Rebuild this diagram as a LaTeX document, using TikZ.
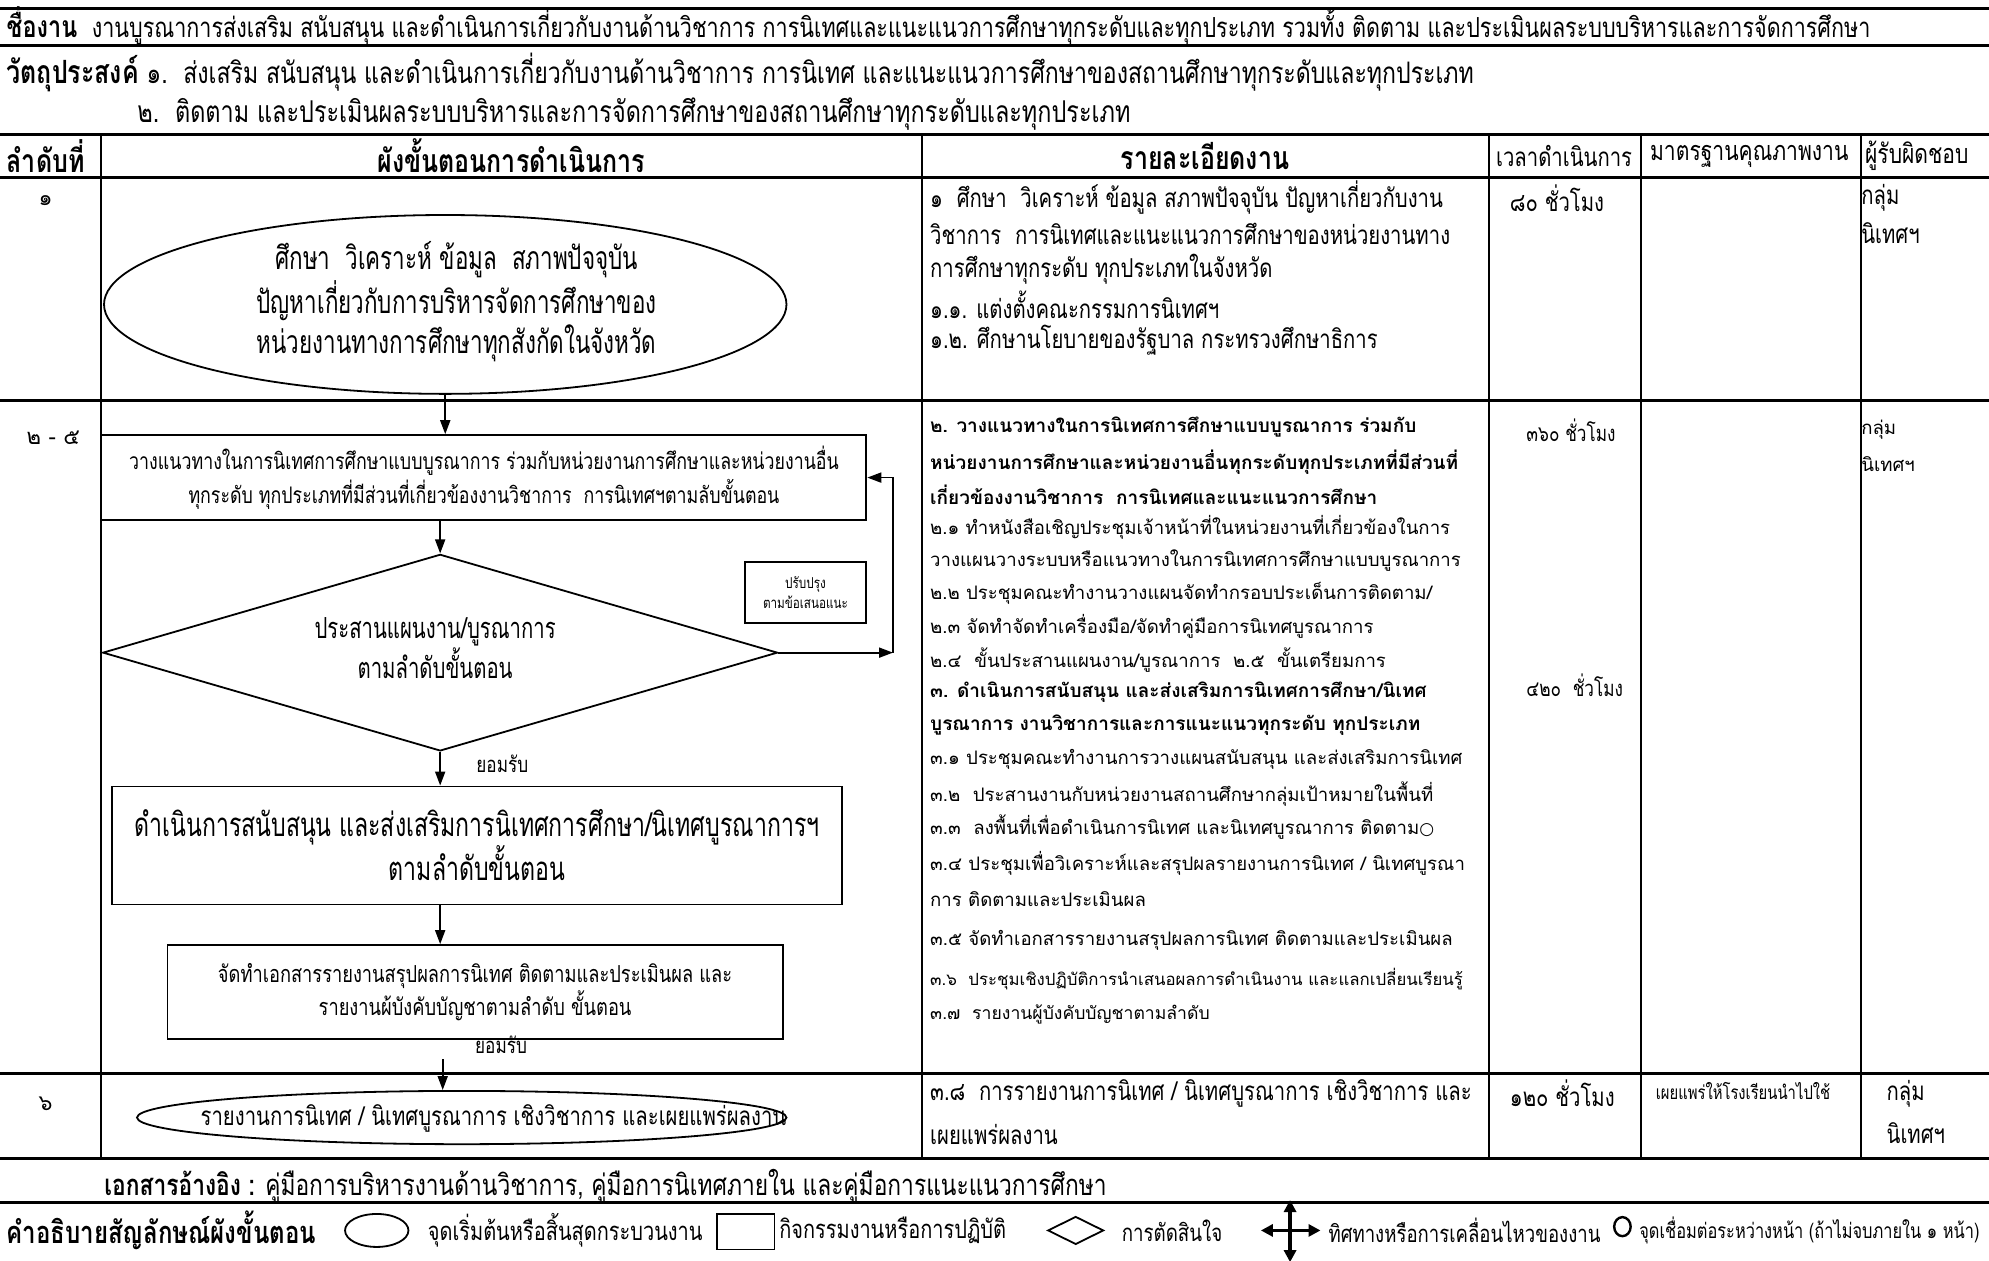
\documentclass[tikz,border=0pt]{standalone}
\usepackage{fontspec}
\usetikzlibrary{shapes.geometric,arrows.meta}
\newfontfamily\thr[Script=Thai]{Loma}
\newfontfamily\thc[Script=Thai,FakeStretch=0.78]{Loma}
\newfontfamily\thcc[Script=Thai,FakeStretch=0.7]{Loma}
\newfontfamily\djv{DejaVu Sans}
\newcommand\fs[2]{\fontsize{#1}{#2}\selectfont}
\newdimen\ux \ux=0.634pt
\tikzset{
 hrule/.style={line width=1.6pt},
 vrule/.style={line width=1pt},
 shp/.style={draw, line width=0.9pt, inner sep=0pt},
 arr/.style={line width=0.9pt, -{Triangle[length=7pt,width=5pt]}},
 tx/.style={inner sep=0pt, anchor=west},
 txc/.style={inner sep=0pt, align=center},
 dl/.style={tx, font=\thr\fs{9.3}{12}},
 dlb/.style={tx, font=\thr\bfseries\fs{9.5}{12}},
 dc/.style={tx, font=\thc\fs{13}{15}},
 tm/.style={tx, font=\thc\fs{11}{13}},
 hd/.style={inner sep=0pt, font=\thc\fs{13.5}{16}},
 hdb/.style={inner sep=0pt, font=\thc\bfseries\fs{16}{18}},
 lgt/.style={tx, font=\thc\fs{12.8}{14}},
}
\begin{document}
\begin{tikzpicture}[x=0.634pt,y=-0.634pt]
\useasboundingbox (0,0) rectangle (1568,994);
% ---------- rules ----------
\foreach \yy in {7,36,106,140,316,846,913,948} {\draw[hrule] (0,\yy) -- (1568,\yy);}
\foreach \xx in {80,727,1174,1294,1467} {\draw[vrule] (\xx,106) -- (\xx,913);}
% ---------- header ----------
\node[tx, font=\thc\fs{13.8}{16}] (h1) at (5,20) {{\bfseries\fs{15}{16}ชื่องาน}\ \ งานบูรณาการส่งเสริม สนับสนุน และดำเนินการเกี่ยวกับงานด้านวิชาการ การนิเทศและแนะแนวการศึกษาทุกระดับและทุกประเภท รวมทั้ง ติดตาม และประเมินผลระบบบริหารและการจัดการศึกษา};
\node[tx, font=\thc\fs{14.8}{17}] (h2) at (5,57) {{\bfseries\fs{16}{17}วัตถุประสงค์}\ ๑.\ \ ส่งเสริม สนับสนุน และดำเนินการเกี่ยวกับงานด้านวิชาการ การนิเทศ และแนะแนวการศึกษาของสถานศึกษาทุกระดับและทุกประเภท};
\node[tx, font=\thc\fs{15}{17}] (h3) at (108,90) {๒.\ \ ติดตาม และประเมินผลระบบบริหารและการจัดการศึกษาของสถานศึกษาทุกระดับและทุกประเภท};
% ---------- table header ----------
\node[hdb, anchor=west] (th1) at (5,123) {ลำดับที่};
\node[hdb] (th2) at (403,123) {ผังขั้นตอนการดำเนินการ};
\node[hdb] (th3) at (950,123) {รายละเอียดงาน};
\node[hd, font=\thc\fs{13}{16}] (th4) at (1233,123) {เวลาดำเนินการ};
\node[hd] (th5) at (1379,123) {มาตรฐานคุณภาพงาน};
\node[hd, anchor=west] (th6) at (1470,123) {ผู้รับผิดชอบ};
% ---------- row numbers ----------
\node[inner sep=0pt, font=\thr\fs{11}{13}] (n1) at (36,158) {๑};
\node[inner sep=0pt, font=\thr\fs{11}{13}] (n2) at (42,345) {๒ - ๕};
\node[inner sep=0pt, font=\thr\fs{11}{13}] (n3) at (36,870) {๖};
% ---------- flowchart ----------
\node[shp, ellipse, minimum width=538*\ux, minimum height=141*\ux] (e1) at (351,240) {};
\node[txc, font=\thcc\fs{16}{20.3}] (e1t) at (360,238) {ศึกษา\ \ วิเคราะห์ ข้อมูล\ \ สภาพปัจจุบัน\\ปัญหาเกี่ยวกับการบริหารจัดการศึกษาของ\\หน่วยงานทางการศึกษาทุกสังกัดในจังหวัด};
\node[shp, minimum width=603*\ux, minimum height=67*\ux, txc, font=\thc\fs{11.4}{17}] (r1) at (381.5,376.5) {วางแนวทางในการนิเทศการศึกษาแบบบูรณาการ ร่วมกับหน่วยงานการศึกษาและหน่วยงานอื่น\\ทุกระดับ ทุกประเภทที่มีส่วนที่เกี่ยวข้องงานวิชาการ\ \ การนิเทศฯตามลับขั้นตอน};
\node[shp, diamond, minimum width=532*\ux, minimum height=155*\ux] (dm) at (347,514.5) {};
\node[txc, font=\thcc\fs{14.5}{17}] (dmt) at (343,511) {ประสานแผนงาน/บูรณาการ\\ตามลำดับขั้นตอน};
\node[shp, minimum width=96*\ux, minimum height=48*\ux, txc, font=\thc\fs{7.5}{10}] (pb) at (635,467) {ปรับปรุง\\ตามข้อเสนอแนะ};
\node[inner sep=0pt, font=\thc\fs{11}{13}] (ok1) at (396,602) {ยอมรับ};
\node[shp, minimum width=576*\ux, minimum height=93*\ux, txc, font=\thcc\fs{16.5}{22}] (r2) at (376,666.5) {ดำเนินการสนับสนุน และส่งเสริมการนิเทศการศึกษา/นิเทศบูรณาการฯ\\ตามลำดับขั้นตอน};
\node[shp, minimum width=485*\ux, minimum height=74*\ux, txc, font=\thc\fs{11.7}{16.5}] (r3) at (374.5,782) {จัดทำเอกสารรายงานสรุปผลการนิเทศ ติดตามและประเมินผล และ\\รายงานผ้บังคับบัญชาตามลำดับ ขั้นตอน};
\node[inner sep=0pt, font=\thc\fs{11}{13}] (ok2) at (395,824) {ยอมรับ};
\node[shp, ellipse, minimum width=512*\ux, minimum height=42*\ux] (e2) at (364,881) {};
\node[inner sep=0pt, font=\thc\fs{13}{15}] (e2t) at (389,882) {รายงานการนิเทศ / นิเทศบูรณาการ เชิงวิชาการ และเผยแพร่ผลงาน};
% connectors
\draw[arr] (e1.south) -- (e1.south |- r1.north);
\draw[arr] (dm.north |- r1.south) -- (dm.north);
\draw[arr] (dm.south) -- (dm.south |- r2.north);
\draw[arr] (dm.south |- r2.south) -- (dm.south |- r3.north);
\coordinate (c6) at (349,835);
\draw[arr] (c6) -- (c6 |- e2.north);
\coordinate (fb) at (704,514.5);
\draw[arr] (dm.east) -- (fb);
\draw[arr] (fb) |- (r1.east);
% ---------- details row 1 ----------
\node[dc] (a1) at (733,156) {๑\ \ ศึกษา\ \ วิเคราะห์ ข้อมูล สภาพปัจจุบัน ปัญหาเกี่ยวกับงาน};
\node[dc] (a2) at (733,184) {วิชาการ\ \ การนิเทศและแนะแนวการศึกษาของหน่วยงานทาง};
\node[dc] (a3) at (733,212) {การศึกษาทุกระดับ ทุกประเภทในจังหวัด};
\node[dc] (a4) at (733,240) {๑.๑. แต่งตั้งคณะกรรมการนิเทศฯ};
\node[dc] (a5) at (733,268) {๑.๒. ศึกษานโยบายของรัฐบาล กระทรวงศึกษาธิการ};
\node[dc] (t1) at (1190,156) {๘๐ ชั่วโมง};
\node[dc] (g1a) at (1467,156) {กลุ่ม};
\node[dc] (g1b) at (1467,184) {นิเทศฯ};
% ---------- details rows 2-5 ----------
\node[dlb] (b1) at (733,337) {๒. วางแนวทางในการนิเทศการศึกษาแบบบูรณาการ ร่วมกับ};
\node[dlb] (b2) at (733,364) {หน่วยงานการศึกษาและหน่วยงานอื่นทุกระดับทุกประเภทที่มีส่วนที่};
\node[dlb] (b3) at (733,390) {เกี่ยวข้องงานวิชาการ\ \ การนิเทศและแนะแนวการศึกษา};
\node[dl] (b4) at (733,416) {๒.๑ ทำหนังสือเชิญประชุมเจ้าหน้าที่ในหน่วยงานที่เกี่ยวข้องในการ};
\node[dl] (b5) at (733,442) {วางแผนวางระบบหรือแนวทางในการนิเทศการศึกษาแบบบูรณาการ};
\node[dl] (b6) at (733,468) {๒.๒ ประชุมคณะทำงานวางแผนจัดทำกรอบประเด็นการติดตาม/};
\node[dl] (b7) at (733,494) {๒.๓ จัดทำจัดทำเครื่องมือ/จัดทำคู่มือการนิเทศบูรณาการ};
\node[dl] (b8) at (733,520) {๒.๔\ \ ขั้นประสานแผนงาน/บูรณาการ\ \ ๒.๕\ \ ขั้นเตรียมการ};
\node[dlb] (b9) at (733,546) {๓. ดำเนินการสนับสนุน และส่งเสริมการนิเทศการศึกษา/นิเทศ};
\node[dlb] (b10) at (733,572) {บูรณาการ งานวิชาการและการแนะแนวทุกระดับ ทุกประเภท};
\node[dl] (b11) at (733,599) {๓.๑ ประชุมคณะทำงานการวางแผนสนับสนุน และส่งเสริมการนิเทศ};
\node[dl] (b12) at (733,626) {๓.๒\ \ ประสานงานกับหน่วยงานสถานศึกษากลุ่มเป้าหมายในพื้นที่};
\node[dl] (b13) at (733,652) {๓.๓\ \ ลงพื้นที่เพื่อดำเนินการนิเทศ และนิเทศบูรณาการ ติดตาม{\djv\fs{8.5}{12}○}};
\node[dl] (b14) at (733,681) {๓.๔ ประชุมเพื่อวิเคราะห์และสรุปผลรายงานการนิเทศ / นิเทศบูรณา};
\node[dl] (b15) at (733,709) {การ ติดตามและประเมินผล};
\node[dl] (b16) at (733,741) {๓.๕ จัดทำเอกสารรายงานสรุปผลการนิเทศ ติดตามและประเมินผล};
\node[dl, font=\thr\fs{8.4}{12}] (b17) at (733,772) {๓.๖\ \ ประชุมเชิงปฏิบัติการนำเสนอผลการดำเนินงาน และแลกเปลี่ยนเรียนรู้};
\node[dl, font=\thr\fs{8.8}{12}] (b18) at (733,800) {๓.๗\ \ รายงานผู้บังคับบัญชาตามลำดับ};
\node[tm] (t2) at (1203,339) {๓๖๐ ชั่วโมง};
\node[tm] (t3) at (1203,540) {๔๒๐\ \ ชั่วโมง};
\node[dl] (g2a) at (1467,339) {กลุ่ม};
\node[dl] (g2b) at (1467,366) {นิเทศฯ};
% ---------- details row 6 ----------
\node[dc] (c1) at (733,862) {๓.๘\ \ การรายงานการนิเทศ / นิเทศบูรณาการ เชิงวิชาการ และ};
\node[dc] (c2) at (733,894) {เผยแพร่ผลงาน};
\node[dc] (t4) at (1190,862) {๑๒๐ ชั่วโมง};
\node[tx, font=\thc\fs{9.5}{12}] (s4) at (1305,860) {เผยแพร่ให้โรงเรียนนำไปใช้};
\node[dc] (g3a) at (1487,862) {กลุ่ม};
\node[dc] (g3b) at (1487,893) {นิเทศฯ};
% ---------- footer ----------
\node[tx, font=\thc\fs{14.6}{17}] (ref) at (82,935) {{\bfseries เอกสารอ้างอิง :} คู่มือการบริหารงานด้านวิชาการ, คู่มือการนิเทศภายใน และคู่มือการแนะแนวการศึกษา};
\node[tx, font=\thc\bfseries\fs{15.4}{18}] (lgh) at (5,970) {คำอธิบายสัญลักษณ์ผังขั้นตอน};
\node[shp, ellipse, minimum width=50*\ux, minimum height=26*\ux] (lg1) at (297,970) {};
\node[lgt] (lg1t) at (337,970) {จุดเริ่มต้นหรือสิ้นสุดกระบวนงาน};
\node[shp, minimum width=45*\ux, minimum height=28*\ux] (lg2) at (588,971) {};
\node[lgt] (lg2t) at (614,970) {กิจกรรมงานหรือการปฏิบัติ};
\node[shp, diamond, minimum width=44*\ux, minimum height=22*\ux] (lg3) at (848,970) {};
\node[lgt, font=\thc\fs{12}{14}] (lg3t) at (884,970) {การตัดสินใจ};
\coordinate (lgL) at (994,970); \coordinate (lgR) at (1041,970);
\coordinate (lgT) at (1017,946); \coordinate (lgB) at (1017,995);
\draw[line width=1.8pt, {Triangle[length=6pt,width=6pt]}-{Triangle[length=6pt,width=6pt]}] (lgL) -- (lgR);
\draw[line width=1.8pt, {Triangle[length=6pt,width=6pt]}-{Triangle[length=6pt,width=6pt]}] (lgT) -- (lgB);
\node[lgt, font=\thc\fs{11.9}{14}] (lg4t) at (1047,970) {ทิศทางหรือการเคลื่อนไหวของงาน};
\node[draw, ellipse, line width=1.2pt, minimum width=13*\ux, minimum height=15*\ux, inner sep=0pt] (lg5) at (1279,967) {};
\node[lgt, font=\thc\fs{10.5}{12}] (lg5t) at (1292,970) {จุดเชื่อมต่อระหว่างหน้า (ถ้าไม่จบภายใน ๑ หน้า)};
\end{tikzpicture}
\end{document}
